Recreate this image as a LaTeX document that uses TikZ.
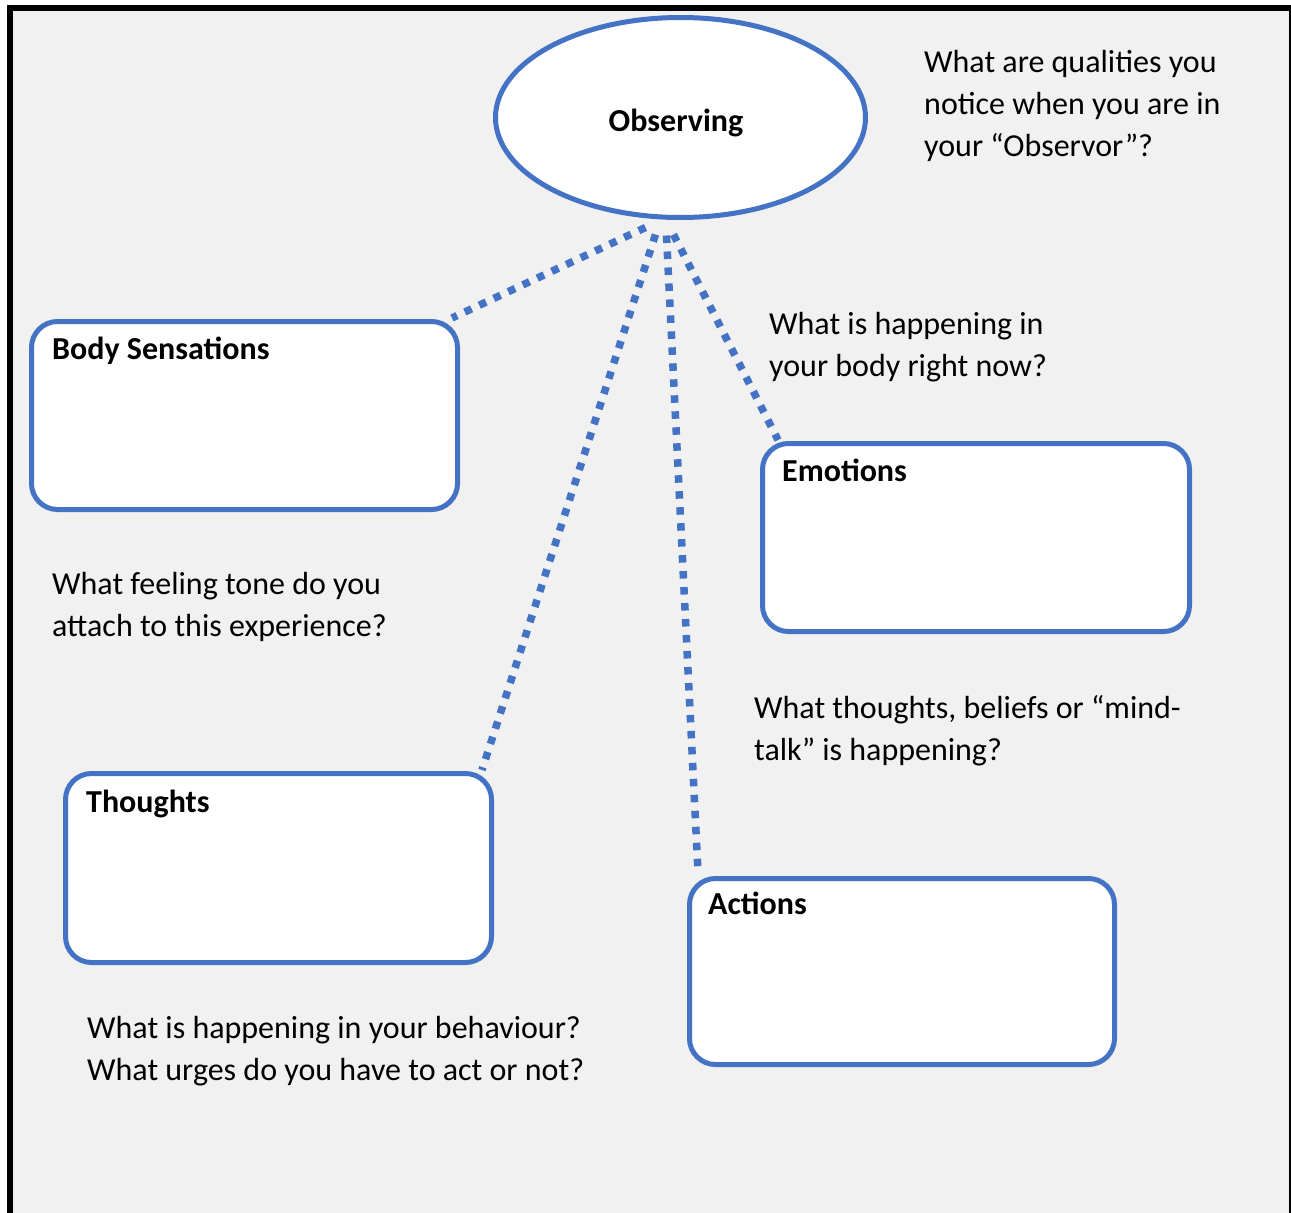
\documentclass[tikz,border=0pt]{standalone}
\usepackage{fontspec}
\setmainfont{Carlito}
\usetikzlibrary{calc,shapes.geometric}
\definecolor{bgray}{HTML}{F1F1F1}
\definecolor{oblue}{HTML}{4472C4}
\tikzset{
  obsshape/.style={ellipse, draw=oblue, line width=5pt, fill=white, inner sep=0pt, outer sep=0pt, minimum width=370pt, minimum height=200pt},
  boxshape/.style={rectangle, rounded corners=26pt, draw=oblue, line width=5pt, fill=white, inner sep=0pt, outer sep=0pt, anchor=north west},
  boxlabel/.style={anchor=base west, inner sep=0pt, font=\fontsize{32}{38}\selectfont\bfseries},
  qtext/.style={anchor=north west, inner sep=0pt, align=left, font=\fontsize{32}{42}\selectfont},
  dotline/.style={draw=oblue, line width=7.5pt, dash pattern=on 7.5pt off 8.5pt}
}
\newcommand{\fl}{\rule{0pt}{30pt}}
\begin{document}
\begin{tikzpicture}[x=1pt,y=-1pt]
\useasboundingbox (0,0) rectangle (1291,1213);
\fill[white] (0,0) rectangle (1291,1213);
\fill[bgray] (13,11) rectangle (1289,1213);
\fill[black] (7,5) rectangle (13,1213);
\fill[black] (7,5) rectangle (1291,11);
\fill[black] (1289,5) rectangle (1291,1213);

\node[obsshape] (obs) at (680.5,117.5) {};
\node[anchor=base, inner sep=0pt, font=\fontsize{32}{38}\selectfont\bfseries] (obslabel) at (676,131) {Observing};

\node[boxshape, minimum width=426pt, minimum height=188pt] (body) at (31.5,321.5) {};
\node[boxshape, minimum width=427pt, minimum height=188pt] (emo) at (762.5,443.5) {};
\node[boxshape, minimum width=426pt, minimum height=189pt] (tho) at (65.5,773.5) {};
\node[boxshape, minimum width=425pt, minimum height=186pt] (act) at (689.5,878.5) {};

\node[boxlabel] (bodyl) at (52,359) {Body Sensations};
\node[boxlabel] (emol) at (782,481) {Emotions};
\node[boxlabel] (thol) at (86,812) {Thoughts};
\node[boxlabel] (actl) at (708,914) {Actions};

\draw[dotline] ($(obs.south)+(-35,10)$) -- ($(body.north east)+(-5.5,-3.5)$);
\draw[dotline] ($(obs.south)+(-25,17)$) -- ($(tho.north east)+(-9.5,-3.5)$);
\draw[dotline] ($(obs.south)+(-14,18)$) -- ($(act.north west)+(8.5,-6.5)$);
\draw[dotline] ($(obs.south)+(-7,17)$) -- ($(emo.north west)+(15.5,-3.5)$);

\node[qtext] (q1) at (924,42) {\fl What are qualities you\\notice when you are in\\your “Observor”?};
\node[qtext] (q2) at (769,304) {\fl What is happening in\\your body right now?};
\node[qtext] (q3) at (52,564) {\fl What feeling tone do you\\attach to this experience?};
\node[qtext] (q4) at (754,688) {\fl What thoughts, beliefs or “mind-\\talk” is happening?};
\node[qtext] (q5) at (87,1008) {\fl What is happening in your behaviour?\\What urges do you have to act or not?};
\end{tikzpicture}
\end{document}
